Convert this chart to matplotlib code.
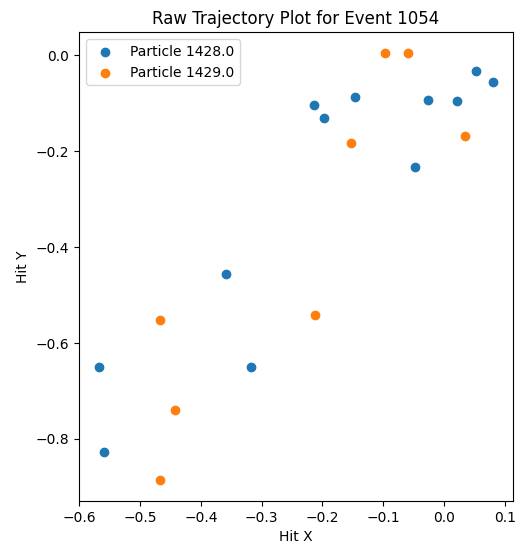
import matplotlib
matplotlib.use("Agg")
import matplotlib.pyplot as plt

# Hit positions per particle for event 1054
event_id = 1054
particle_ids = [1428.0, 1429.0]

p1428_x = [-0.568, -0.560, -0.359, -0.318, -0.2135, -0.198, -0.147,
           -0.048, -0.027, 0.022, 0.0525, 0.081]
p1428_y = [-0.649, -0.828, -0.457, -0.649, -0.1035, -0.131, -0.086,
           -0.232, -0.093, -0.095, -0.032, -0.055]

p1429_x = [-0.467, -0.467, -0.442, -0.212, -0.153, -0.0978, -0.059, 0.034]
p1429_y = [-0.885, -0.551, -0.739, -0.542, -0.182, 0.004, 0.004, -0.169]

fig, ax = plt.subplots(figsize=(5.23, 5.44), dpi=100)
fig.subplots_adjust(left=0.151, right=0.981, top=0.941, bottom=0.079)

ax.scatter(p1428_x, p1428_y, label=f"Particle {particle_ids[0]}")
ax.scatter(p1429_x, p1429_y, label=f"Particle {particle_ids[1]}")

ax.set_title(f"Raw Trajectory Plot for Event {event_id}")
ax.set_xlabel("Hit X")
ax.set_ylabel("Hit Y")
ax.legend(loc="upper left")

fig.savefig("out.png", dpi=100)
